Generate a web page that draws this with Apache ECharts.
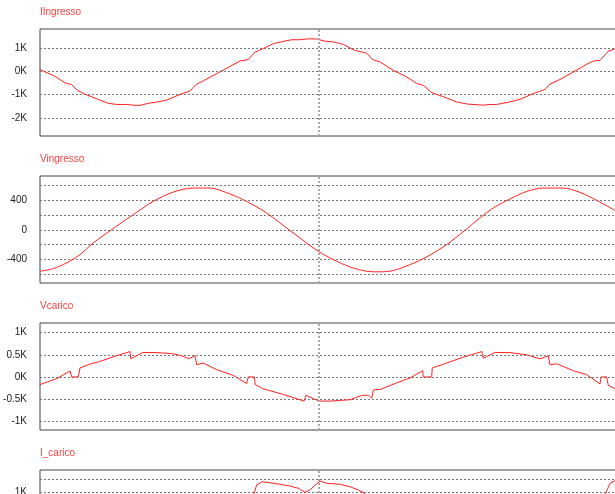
<!DOCTYPE html>
<html><head><meta charset="utf-8">
<script src="https://cdn.jsdelivr.net/npm/echarts@6/dist/echarts.min.js"></script>
<style>html,body{margin:0;padding:0;background:#fff}#c{width:615px;height:494px}</style>
</head><body><div id="c"></div>
<script>
// time in ms, values in A / V
const titles = ['IIngresso', 'Vingresso', 'Vcarico', 'I_carico'];

const iIngresso = [
  [0.00,70],[0.83,-210],[1.39,-500],[1.76,-570],[2.07,-810],[2.50,-980],[3.15,-1180],[3.79,-1370],
  [4.26,-1420],[4.82,-1420],[5.18,-1450],[5.56,-1460],[6.02,-1370],[6.48,-1320],[7.04,-1230],
  [7.78,-990],[8.33,-840],[8.67,-570],[9.07,-410],[9.82,-100],[10.56,210],[11.11,440],[11.57,500],
  [11.94,820],[12.41,970],[12.96,1180],[13.52,1280],[13.98,1350],[14.44,1350],[14.91,1390],
  [15.37,1380],[15.83,1290],[16.29,1260],[16.85,1150],[17.50,890],[18.15,780],[18.48,500],
  [18.89,400],[19.63,40],[20.37,-240],[20.93,-520],[21.29,-600],[21.76,-910],[22.41,-1090],
  [23.15,-1310],[23.71,-1400],[24.63,-1450],[25.00,-1420],[25.37,-1420],[26.11,-1310],
  [26.67,-1200],[27.41,-950],[28.06,-780],[28.33,-550],[28.89,-350],[29.63,-30],[30.37,300],
  [30.74,440],[31.11,470],[31.57,860],[31.94,950]
];

const vIngresso = [
  [0.00,-559],[0.74,-523],[1.48,-446],[2.22,-334],[2.96,-176],[3.98,4],[5.18,207],[6.29,386],
  [7.41,513],[8.52,567],[9.44,567],[10.56,486],[11.48,386],[12.59,230],[13.89,-9],[14.44,-108],
  [15.00,-212],[15.56,-303],[16.29,-401],[17.22,-500],[18.15,-559],[18.89,-567],[19.63,-550],
  [20.56,-469],[21.48,-365],[22.59,-199],[23.61,-5],[24.44,162],[25.18,297],[26.11,419],
  [27.04,521],[27.96,567],[29.07,567],[30.00,508],[30.93,400],[31.94,265]
];

const vCarico = [
  [0.00,-173],[0.93,-38],[1.67,135],[1.76,0],[2.13,0],[2.22,202],[2.78,291],[3.33,350],[4.07,455],
  [5.00,574],[5.04,410],[5.71,552],[6.39,552],[7.32,529],[7.87,478],[8.29,410],[8.61,484],
  [8.71,276],[9.07,314],[9.82,164],[10.74,36],[11.48,-150],[11.57,0],[11.91,0],[11.96,-173],
  [12.41,-269],[13.52,-397],[14.67,-546],[14.78,-412],[15.00,-457],[15.50,-546],[16.11,-546],
  [17.22,-516],[17.87,-419],[18.24,-412],[18.43,-479],[18.52,-292],[18.89,-285],[19.81,-135],
  [20.56,-22],[21.26,141],[21.29,0],[21.76,0],[21.79,202],[22.59,314],[23.52,448],[24.54,574],
  [24.63,426],[25.28,552],[26.11,552],[27.04,500],[27.78,410],[28.24,478],[28.33,276],
  [28.71,298],[29.63,141],[30.37,52],[31.11,-157],[31.17,0],[31.48,0],[31.57,-188],[31.94,-269]
];

const iCarico = [
  [11.67,300],[11.89,949],[12.04,1276],[12.35,1405],[12.78,1366],[13.33,1303],[13.89,1236],
  [14.35,1146],[14.72,988],[15.00,1079],[15.28,1276],[15.56,1433],[15.93,1342],[16.67,1303],
  [17.22,1209],[17.68,1079],[18.00,972],[18.22,300],[31.22,300],[31.44,972],[31.67,1342],
  [31.94,1445]
];

const p1Ticks = [-2000, -1000, 0, 1000];
const p1Labels = [-2000, -1000, 0, 1000];
const p2Ticks = [-600, -400, -200, 0, 200, 400, 600];
const p2Labels = [-400, 0, 400];
const p3Ticks = [-1000, -500, 0, 500, 1000];
const p3Labels = [-1000, -500, 0, 500, 1000];
const p4Ticks = [-2000, -1500, -1000, -500, 0, 500, 1000, 1500];
const p4Labels = [-2000, -1000, 0, 1000];
const markerTime = [15.5];

const seriesData = [iIngresso, vIngresso, vCarico, iCarico];
const ticks = [p1Ticks, p2Ticks, p3Ticks, p4Ticks];
const labels = [p1Labels, p2Labels, p3Labels, p4Labels];
const kFmt = v => (v / 1000) + 'K';
const plainFmt = v => String(v);
const fmts = [kFmt, plainFmt, kFmt, kFmt];

const tops = [29, 176, 323, 470];
const ranges = [[-2770, 1810], [-718, 730], [-1200, 1220], [-2346, 1866]];
const titleTops = [7, 154, 301, 448];
const FONT = "'Liberation Sans', Arial, sans-serif";

const option = {
  animation: false,
  backgroundColor: '#fff',
  title: titles.map((t, i) => ({
    text: t, left: 40, top: titleTops[i], padding: 0,
    textStyle: { color: '#ff4040', fontSize: 10, fontWeight: 'normal', fontFamily: FONT }
  })),
  grid: tops.map(t => ({
    left: 40, top: t, width: 576, height: 107, show: true,
    outerBoundsMode: 'none',
    borderColor: '#444', borderWidth: 1, backgroundColor: 'transparent', containLabel: false
  })),
  xAxis: tops.map((t, i) => ({
    type: 'value', gridIndex: i, min: 0, max: 32,
    axisLine: { show: false }, axisTick: { show: false }, axisLabel: { show: false },
    splitLine: { show: false }
  })),
  yAxis: tops.map((t, i) => ({
    type: 'value', gridIndex: i, min: ranges[i][0], max: ranges[i][1],
    axisLine: { show: false },
    axisTick: { show: false, customValues: ticks[i] },
    axisLabel: {
      customValues: labels[i], formatter: fmts[i], margin: 13,
      color: '#222', fontSize: 10, fontFamily: FONT
    },
    splitLine: { show: true, lineStyle: { color: '#777', width: 1, type: [2, 2] } }
  })),
  series: seriesData.map((d, i) => ({
    type: 'line', xAxisIndex: i, yAxisIndex: i, data: d,
    showSymbol: false, symbol: 'none', smooth: i === 1 ? 0.3 : false,
    lineStyle: { color: '#ff2020', width: 1 }, clip: true,
    markLine: {
      silent: true, symbol: 'none', label: { show: false },
      lineStyle: { color: '#aaa', type: [2, 2], width: 2 },
      data: markerTime.map(m => ({ xAxis: m }))
    }
  }))
};

const chart = echarts.init(document.getElementById('c'), null, { renderer: 'canvas' });
chart.setOption(option);
</script>
</body></html>
